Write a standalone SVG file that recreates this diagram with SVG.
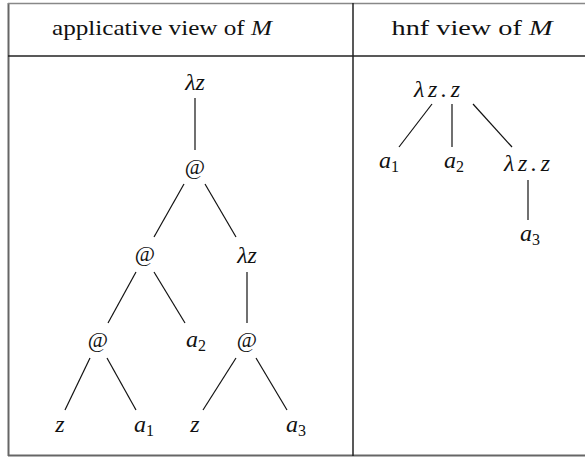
<svg xmlns="http://www.w3.org/2000/svg" width="585" height="457" viewBox="0 0 585 457">
<style>
.hd{font-family:"Liberation Serif","Times New Roman",serif;font-size:22px;fill:#111;text-anchor:middle}
.m{font-family:"Liberation Serif","Times New Roman",serif;font-style:italic;font-size:24px;fill:#111;text-anchor:middle}
.r{font-family:"Liberation Serif","Times New Roman",serif;font-size:22px;fill:#111;text-anchor:middle}
.sub{font-size:16px;font-style:normal}
.e{stroke:#111;stroke-width:1.2;fill:none}
</style>
<rect width="585" height="457" fill="#fff"/>
<g id="table" fill="none">
<line x1="8.5" y1="3" x2="8.5" y2="456" stroke="#666" stroke-width="2"/>
<line x1="8" y1="3.5" x2="585" y2="3.5" stroke="#888" stroke-width="1.5"/>
<line x1="8" y1="455.5" x2="585" y2="455.5" stroke="#666" stroke-width="2"/>
<line x1="8" y1="56" x2="585" y2="56" stroke="#222" stroke-width="1.5"/>
<line x1="353" y1="3" x2="353" y2="456" stroke="#222" stroke-width="1.5"/>
</g>
<g id="headers">
<text class="hd" x="162" y="35" textLength="220" lengthAdjust="spacingAndGlyphs">applicative view of <tspan font-style="italic">M</tspan></text>
<text class="hd" x="472" y="35" textLength="161" lengthAdjust="spacingAndGlyphs">hnf view of <tspan font-style="italic">M</tspan></text>
</g>
<g id="connectors">
<line class="e" x1="195" y1="98" x2="195" y2="150"/>
<line class="e" x1="184" y1="184" x2="154" y2="237"/>
<line class="e" x1="205" y1="184" x2="236" y2="237"/>
<line class="e" x1="136" y1="272" x2="108" y2="323"/>
<line class="e" x1="154" y1="272" x2="185" y2="323"/>
<line class="e" x1="247" y1="272" x2="247" y2="323"/>
<line class="e" x1="90" y1="358" x2="65" y2="410"/>
<line class="e" x1="107" y1="358" x2="136" y2="410"/>
<line class="e" x1="236" y1="358" x2="203" y2="410"/>
<line class="e" x1="256" y1="358" x2="287" y2="410"/>
<line class="e" x1="432" y1="104" x2="399" y2="147"/>
<line class="e" x1="452" y1="104" x2="452" y2="147"/>
<line class="e" x1="473" y1="104" x2="512" y2="147"/>
<line class="e" x1="528" y1="180" x2="528" y2="220"/>
</g>
<g id="n-lz-root"><text class="m" x="195" y="90">λz</text></g>
<g id="n-app1"><text class="r" x="195" y="174">@</text></g>
<g id="n-app2"><text class="r" x="145" y="261">@</text></g>
<g id="n-lz2"><text class="m" x="247" y="263">λz</text></g>
<g id="n-app3"><text class="r" x="98" y="347">@</text></g>
<g id="n-a2"><text class="m" x="196" y="347">a<tspan class="sub" dy="4">2</tspan></text></g>
<g id="n-app4"><text class="r" x="247" y="347">@</text></g>
<g id="n-z1"><text class="m" x="60" y="432">z</text></g>
<g id="n-a1"><text class="m" x="144" y="432">a<tspan class="sub" dy="4">1</tspan></text></g>
<g id="n-z2"><text class="m" x="195" y="432">z</text></g>
<g id="n-a3"><text class="m" x="296" y="432">a<tspan class="sub" dy="4">3</tspan></text></g>
<g id="h-lzz"><text class="m" x="437" y="97" textLength="46" lengthAdjust="spacing">λz.z</text></g>
<g id="h-a1"><text class="m" x="389" y="168">a<tspan class="sub" dy="4">1</tspan></text></g>
<g id="h-a2"><text class="m" x="454" y="168">a<tspan class="sub" dy="4">2</tspan></text></g>
<g id="h-lzz2"><text class="m" x="527" y="171" textLength="46" lengthAdjust="spacing">λz.z</text></g>
<g id="h-a3"><text class="m" x="530" y="241">a<tspan class="sub" dy="4">3</tspan></text></g>
</svg>
